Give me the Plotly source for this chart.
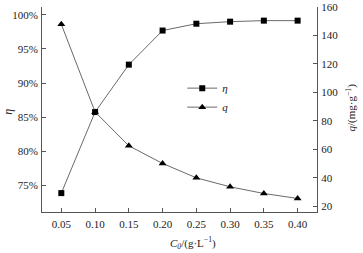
import plotly.graph_objects as go

c0 = [0.05, 0.10, 0.15, 0.20, 0.25, 0.30, 0.35, 0.40]
eta = [0.7387, 0.8575, 0.927, 0.977, 0.987, 0.990, 0.9915, 0.9915]
q = [147.9, 86.3, 62.5, 50.1, 40.0, 33.7, 29.0, 25.5]
x_ticks = [0.05, 0.10, 0.15, 0.20, 0.25, 0.30, 0.35, 0.40]
x_labels = ["0.05", "0.10", "0.15", "0.20", "0.25", "0.30", "0.35", "0.40"]
eta_ticks = [0.75, 0.80, 0.85, 0.90, 0.95, 1.00]
eta_labels = ["75%", "80%", "85%", "90%", "95%", "100%"]
q_ticks = [20, 40, 60, 80, 100, 120, 140, 160]

FONT = "Liberation Serif, Times New Roman, serif"
LINE = "#6a6a6a"
AX = "#555555"
TXT = "#222222"

fig = go.Figure()
fig.add_trace(go.Scatter(
    x=c0, y=eta, name="<i>η</i>", mode="lines+markers",
    line=dict(color=LINE, width=1),
    marker=dict(symbol="square", size=6, color="black"),
))
fig.add_trace(go.Scatter(
    x=c0, y=q, name="<i>q</i>", mode="lines+markers", yaxis="y2",
    line=dict(color=LINE, width=1),
    marker=dict(symbol="triangle-up", size=7, color="black"),
))

common = dict(showline=True, linecolor=AX, linewidth=1, ticks="inside",
              ticklen=4, tickcolor=AX, showgrid=False, zeroline=False,
              automargin=False,
              tickfont=dict(family=FONT, size=11, color=TXT))

fig.update_layout(
    width=363, height=253,
    margin=dict(l=42, r=46, t=7, b=41, autoexpand=False),
    paper_bgcolor="white", plot_bgcolor="white",
    font=dict(family=FONT, size=11, color=TXT),
    xaxis=dict(range=[0.0214, 0.4287], tickvals=x_ticks, ticktext=x_labels,
               ticklabelstandoff=2, **common),
    yaxis=dict(range=[0.711, 1.0115], tickvals=eta_ticks, ticktext=eta_labels,
               ticklabelstandoff=1, **common),
    yaxis2=dict(range=[16.0, 160], tickvals=q_ticks, overlaying="y", side="right",
                ticklabelstandoff=1, **common),
    legend=dict(x=0.51, y=0.675, xanchor="left", yanchor="top",
                bgcolor="rgba(0,0,0,0)", font=dict(family=FONT, size=11, color=TXT),
                itemwidth=30, tracegroupgap=0),
    showlegend=True,
    annotations=[
        dict(text="<i>C</i><sub><i>0</i></sub>/(g·L<sup>−1</sup>)", xref="paper", yref="paper",
             x=0.55, y=-0.153, xanchor="center", yanchor="middle", showarrow=False,
             font=dict(family=FONT, size=11, color=TXT)),
        dict(text="<i>η</i>", xref="paper", yref="paper",
             x=-0.124, y=0.488, xanchor="center", yanchor="middle", showarrow=False,
             textangle=-90, font=dict(family=FONT, size=12, color=TXT)),
        dict(text="<i>q</i>/(mg·g<sup>−1</sup>)", xref="paper", yref="paper",
             x=1.1236, y=0.51, xanchor="center", yanchor="middle", showarrow=False,
             textangle=-90, font=dict(family=FONT, size=11, color=TXT)),
    ],
)

fig.write_html("out.html", config={"displayModeBar": False},
               post_script="document.body.style.margin='0px';document.body.style.overflow='hidden';")
